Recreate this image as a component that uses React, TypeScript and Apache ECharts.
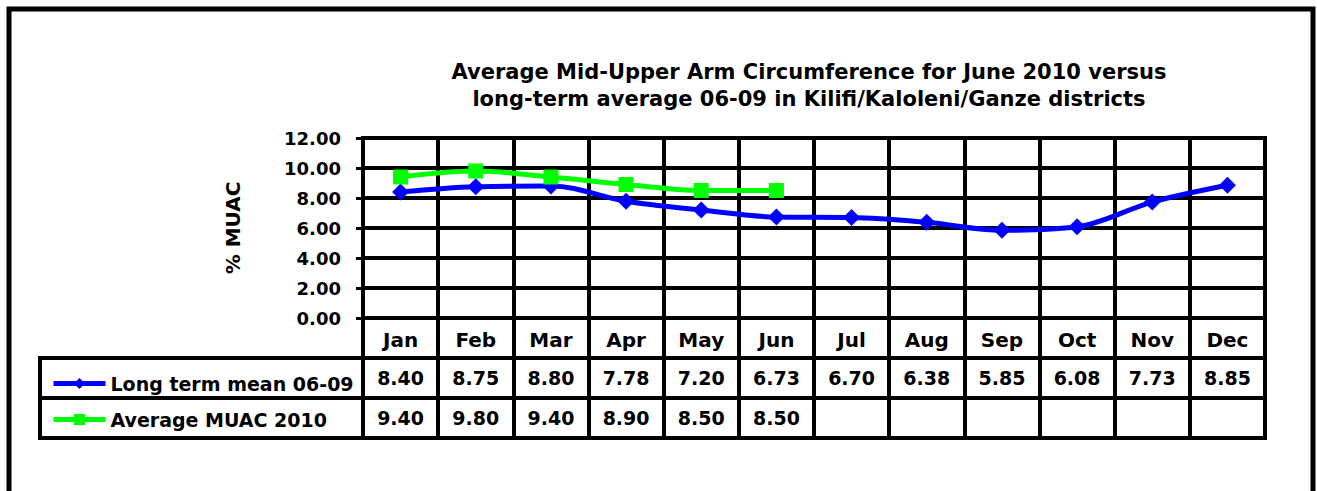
import React, { useEffect, useRef } from "react";
import * as echarts from "echarts";

const months = ["Jan", "Feb", "Mar", "Apr", "May", "Jun", "Jul", "Aug", "Sep", "Oct", "Nov", "Dec"];
const longTermMean = [8.4, 8.75, 8.8, 7.78, 7.2, 6.73, 6.7, 6.38, 5.85, 6.08, 7.73, 8.85];
const average2010 = [9.4, 9.8, 9.4, 8.9, 8.5, 8.5];
const tableRows = ["months", "Long term mean 06-09", "Average MUAC 2010"];
const titleText =
  "Average Mid-Upper Arm Circumference for June 2010 versus\nlong-term average 06-09 in Kilifi/Kaloleni/Ganze districts";

const FONT = "'DejaVu Sans', 'Liberation Sans', Arial, sans-serif";

export default function App() {
  const ref = useRef<HTMLDivElement>(null);
  useEffect(() => {
    if (!ref.current) return;
    const chart = echarts.init(ref.current, null, { renderer: "svg" });
    const tableData: any[] = [];
    longTermMean.forEach((v, i) => tableData.push({ value: [i, 1], label: { formatter: v.toFixed(2) } }));
    average2010.forEach((v, i) => tableData.push({ value: [i, 2], label: { formatter: v.toFixed(2) } }));
    const blk = "#000";
    chart.setOption({
      animation: false,
      backgroundColor: "#fff",
      textStyle: { fontFamily: FONT },
      title: {
        text: titleText,
        left: 804,
        top: 53,
        textAlign: "center",
        textStyle: { fontFamily: FONT, fontWeight: "bold", fontSize: 21, lineHeight: 27, color: blk },
      },
      legend: {
        orient: "vertical",
        left: 46,
        top: 369,
        itemWidth: 52,
        itemHeight: 14,
        itemGap: 17,
        data: ["Long term mean 06-09", "Average MUAC 2010"],
        lineStyle: { width: 5 },
        textStyle: { fontFamily: FONT, fontWeight: "bold", fontSize: 19, color: blk },
      },
      graphic: [
        { type: "rect", shape: { x: 9, y: 9, width: 1304, height: 520 }, style: { fill: "none", stroke: blk, lineWidth: 5 }, silent: true },
        { type: "rect", shape: { x: 40, y: 358, width: 323, height: 40 }, style: { fill: "none", stroke: blk, lineWidth: 4 }, silent: true },
        { type: "rect", shape: { x: 40, y: 398, width: 323, height: 40 }, style: { fill: "none", stroke: blk, lineWidth: 4 }, silent: true },
      ],
      grid: [
        { left: 363, top: 138, width: 902, height: 180, show: true, borderColor: blk, borderWidth: 4, backgroundColor: "transparent" },
        { left: 363, top: 318, width: 902, height: 120, show: true, borderColor: blk, borderWidth: 4, backgroundColor: "transparent" },
      ],
      xAxis: [
        {
          type: "category",
          gridIndex: 0,
          data: months,
          boundaryGap: true,
          axisLine: { lineStyle: { color: blk, width: 4 } },
          axisTick: { show: false },
          splitLine: { show: true, interval: 0, lineStyle: { color: blk, width: 4 } },
          axisLabel: { interval: 0, margin: 12, fontFamily: FONT, fontWeight: "bold", fontSize: 20, color: blk },
        },
        {
          type: "category",
          gridIndex: 1,
          data: months,
          boundaryGap: true,
          axisLine: { lineStyle: { color: blk, width: 4 } },
          axisTick: { show: false },
          axisLabel: { show: false },
          splitLine: { show: true, interval: 0, lineStyle: { color: blk, width: 4 } },
        },
      ],
      yAxis: [
        {
          type: "value",
          gridIndex: 0,
          min: 0,
          max: 12,
          interval: 2,
          name: "% MUAC",
          nameLocation: "middle",
          nameGap: 120,
          nameRotate: 90,
          nameTextStyle: { fontFamily: FONT, fontWeight: "bold", fontSize: 20, color: blk },
          axisLine: { show: true, lineStyle: { color: blk, width: 4 } },
          axisTick: { show: true, length: 7, lineStyle: { color: blk, width: 3 } },
          splitLine: { show: true, lineStyle: { color: blk, width: 4 } },
          axisLabel: {
            margin: 22,
            formatter: (v: number) => v.toFixed(2),
            fontFamily: FONT,
            fontWeight: "bold",
            fontSize: 18,
            color: blk,
          },
        },
        {
          type: "category",
          gridIndex: 1,
          data: tableRows,
          inverse: true,
          boundaryGap: true,
          axisLine: { show: true, lineStyle: { color: blk, width: 4 } },
          axisTick: { show: false },
          axisLabel: { show: false },
          splitLine: { show: true, interval: 0, lineStyle: { color: blk, width: 4 } },
        },
      ],
      series: [
        {
          name: "Long term mean 06-09",
          type: "line",
          xAxisIndex: 0,
          yAxisIndex: 0,
          data: longTermMean,
          smooth: 0.35,
          symbol: "diamond",
          symbolSize: 17,
          itemStyle: { color: "#0000FF" },
          lineStyle: { color: "#0000FF", width: 5 },
        },
        {
          name: "Average MUAC 2010",
          type: "line",
          xAxisIndex: 0,
          yAxisIndex: 0,
          data: average2010,
          smooth: 0.35,
          symbol: "rect",
          symbolSize: 15,
          itemStyle: { color: "#00FF00" },
          lineStyle: { color: "#00FF00", width: 5 },
        },
        {
          name: "table",
          type: "scatter",
          xAxisIndex: 1,
          yAxisIndex: 1,
          symbolSize: 0,
          itemStyle: { opacity: 1, color: blk },
          data: tableData,
          label: {
            show: true,
            position: "inside",
            fontFamily: FONT,
            fontWeight: "bold",
            fontSize: 19,
            color: blk,
            opacity: 1,
            textBorderWidth: 0,
            textBorderColor: "transparent",
          },
        },
      ],
    });
    return () => chart.dispose();
  }, []);
  return (
    <div
      ref={ref}
      style={{ position: "absolute", left: 0, top: 0, width: 1317, height: 491 }}
    />
  );
}
